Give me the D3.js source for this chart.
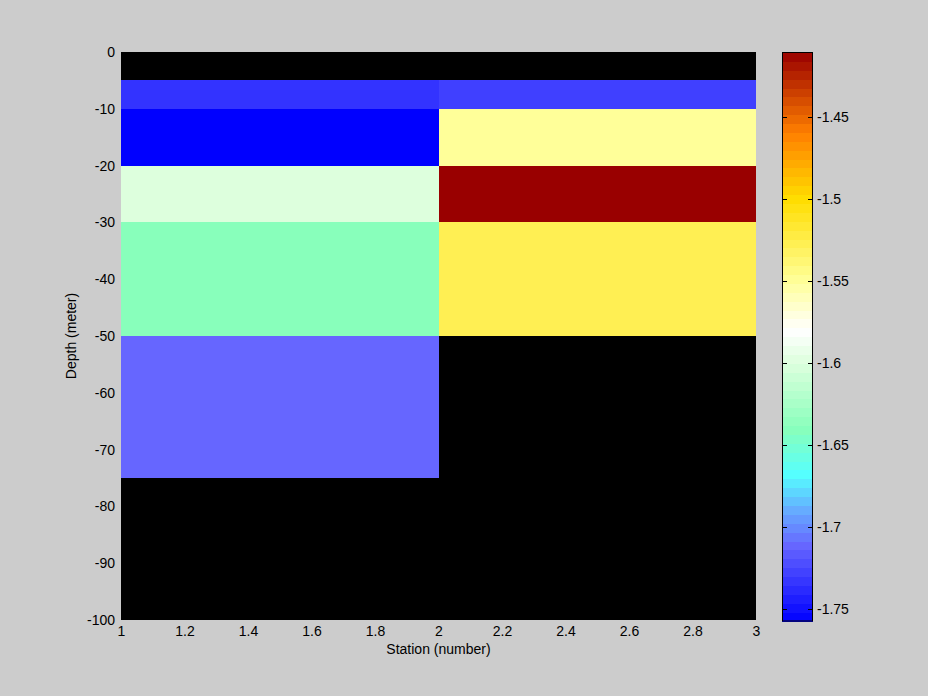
<!DOCTYPE html>
<html>
<head>
<meta charset="utf-8">
<script src="https://cdn.jsdelivr.net/npm/d3@7"></script>
<style>
  html, body { margin: 0; padding: 0; background: #cccccc; }
  text { font-family: "Liberation Sans", Arial, sans-serif; }
</style>
</head>
<body>
<svg id="chart" width="928" height="696"></svg>
<script>
// ---- data ----
const stationEdges = [1, 2, 3];
const depthEdges = [0, -5, -10, -20, -30, -50, -75, -100];
// value of each depth layer (between consecutive depth edges); NaN = no data
const station1Values = [NaN, -1.734, -1.757, -1.600, -1.640, -1.711, NaN];
const station2Values = [NaN, -1.728, -1.550, -1.411, -1.527, NaN, NaN];
const xTicks = [1, 1.2, 1.4, 1.6, 1.8, 2, 2.2, 2.4, 2.6, 2.8, 3];
const xTickLabels = ["1", "1.2", "1.4", "1.6", "1.8", "2", "2.2", "2.4", "2.6", "2.8", "3"];
const yTicks = [0, -10, -20, -30, -40, -50, -60, -70, -80, -90, -100];
const yTickLabels = ["0", "-10", "-20", "-30", "-40", "-50", "-60", "-70", "-80", "-90", "-100"];
const cbTicks = [-1.45, -1.5, -1.55, -1.6, -1.65, -1.7, -1.75];
const cbTickLabels = ["-1.45", "-1.5", "-1.55", "-1.6", "-1.65", "-1.7", "-1.75"];
const colorRange = [-1.757, -1.411];
// colormap anchors
const cmapStops = [-1.757, -1.711, -1.69, -1.668, -1.64, -1.60, -1.58, -1.55, -1.50, -1.46, -1.411];
const cmapColors = ["#0000ff", "#6666ff", "#66aaff", "#55ffff", "#88ffbb", "#ddffdd", "#ffffff", "#ffff99", "#ffdd00", "#ff8000", "#990000"];
const nLevels = 64;

// ---- layout ----
const svg = d3.select("#chart");
svg.append("rect").attr("width", 928).attr("height", 696).attr("fill", "#cccccc");

const x = d3.scaleLinear().domain([1, 3]).range([121, 756]);
const y = d3.scaleLinear().domain([-100, 0]).range([620, 52]);
const color = d3.scaleLinear().domain(cmapStops).range(cmapColors).interpolate(d3.interpolateRgb).clamp(true);

// axes background (NaN shown as black)
svg.append("rect")
  .attr("x", x(1)).attr("y", y(0))
  .attr("width", x(3) - x(1)).attr("height", y(-100) - y(0))
  .attr("fill", "#000");

const cells = [];
[station1Values, station2Values].forEach((vals, si) => {
  vals.forEach((v, di) => {
    cells.push({x0: stationEdges[si], x1: stationEdges[si + 1], d0: depthEdges[di], d1: depthEdges[di + 1], v});
  });
});

svg.append("g").selectAll("rect")
  .data(cells.filter(c => !isNaN(c.v)))
  .join("rect")
  .attr("x", c => x(c.x0))
  .attr("y", c => y(c.d0))
  .attr("width", c => x(c.x1) - x(c.x0))
  .attr("height", c => y(c.d1) - y(c.d0))
  .attr("fill", c => color(c.v))
  .attr("shape-rendering", "crispEdges");

// x axis
const xAxis = svg.append("g")
  .attr("transform", `translate(0,${y(-100)})`)
  .call(d3.axisBottom(x).tickValues(xTicks).tickSize(0).tickPadding(6)
    .tickFormat((d, i) => xTickLabels[i]));
xAxis.select(".domain").remove();
xAxis.selectAll("text").attr("font-size", 14).attr("fill", "#000")
  .attr("font-family", "Liberation Sans, Arial, sans-serif");

// y axis
const yAxis = svg.append("g")
  .attr("transform", `translate(${x(1)},0)`)
  .call(d3.axisLeft(y).tickValues(yTicks).tickSize(0).tickPadding(6)
    .tickFormat((d, i) => yTickLabels[i]));
yAxis.select(".domain").remove();
yAxis.selectAll("text").attr("font-size", 14).attr("fill", "#000")
  .attr("font-family", "Liberation Sans, Arial, sans-serif");

// axis labels
svg.append("text")
  .attr("x", x(2)).attr("y", 654)
  .attr("text-anchor", "middle").attr("font-size", 14).attr("fill", "#000")
  .text("Station (number)");
svg.append("text")
  .attr("transform", `translate(76,${(y(0) + y(-100)) / 2}) rotate(-90)`)
  .attr("text-anchor", "middle").attr("font-size", 14).attr("fill", "#000")
  .text("Depth (meter)");

// colorbar
const cbX0 = 782, cbX1 = 813;
const cbY = d3.scaleLinear().domain(colorRange).range([621, 52.5]);
const step = (colorRange[1] - colorRange[0]) / nLevels;
const levels = d3.range(nLevels).map(i => colorRange[0] + i * step);
svg.append("g").selectAll("rect")
  .data(levels)
  .join("rect")
  .attr("x", cbX0)
  .attr("width", cbX1 - cbX0)
  .attr("y", d => cbY(d + step))
  .attr("height", d => cbY(d) - cbY(d + step) + 0.5)
  .attr("fill", d => color(d + step / 2))
  .attr("shape-rendering", "crispEdges");
svg.append("rect")
  .attr("x", cbX0 + 0.5).attr("y", cbY(colorRange[1]))
  .attr("width", cbX1 - cbX0 - 1).attr("height", cbY(colorRange[0]) - cbY(colorRange[1]))
  .attr("fill", "none").attr("stroke", "#000").attr("stroke-width", 1);

const cbAxisG = svg.append("g");
cbTicks.forEach((t, i) => {
  const ty = Math.round(cbY(t)) + 0.5;
  cbAxisG.append("line").attr("x1", cbX0).attr("x2", cbX0 + 5).attr("y1", ty).attr("y2", ty).attr("stroke", "#000");
  cbAxisG.append("line").attr("x1", cbX1 - 5).attr("x2", cbX1).attr("y1", ty).attr("y2", ty).attr("stroke", "#000");
  cbAxisG.append("text").attr("x", 817).attr("y", ty).attr("dy", "0.34em")
    .attr("font-size", 14).attr("fill", "#000").text(cbTickLabels[i]);
});
</script>
</body>
</html>
